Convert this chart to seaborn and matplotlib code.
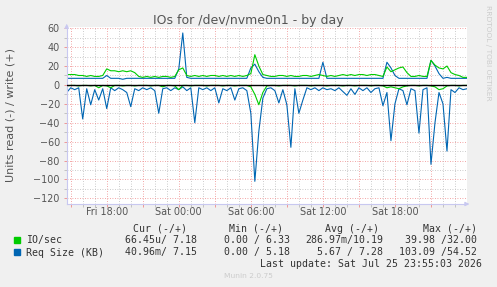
import pandas as pd
import numpy as np
import matplotlib
matplotlib.use("Agg")
import matplotlib.pyplot as plt
import matplotlib.dates as mdates
from matplotlib.ticker import MultipleLocator
from matplotlib.patches import Rectangle
import seaborn as sns

# 20 minute samples, Fri 14:40 -> Sat 24:00
times = pd.date_range("2026-07-24 14:40", periods=101, freq="20min")

# IO/sec write (+) and read (-)
io_write = [11, 11, 11, 10, 10, 9, 10, 9, 9, 10,
            17, 15, 15, 14, 15, 14, 15, 13, 9, 8,
            9, 8, 9, 8, 9, 9, 8, 9, 16, 18,
            10, 9, 10, 9, 10, 9, 10, 10, 9, 10,
            9, 10, 9, 10, 9, 10, 12, 32, 20, 11,
            10, 9, 9, 10, 10, 9, 10, 9, 9, 10,
            10, 9, 10, 11, 10, 9, 10, 9, 10, 11,
            10, 11, 10, 11, 11, 10, 11, 11, 10, 9,
            19, 14, 16, 18, 19, 13, 9, 9, 10, 9,
            9, 26, 21, 18, 17, 20, 13, 11, 10, 8,
            8]
io_read = [1, 0.5, 0.5, 1, 0.5, 0.5, 1, 0.5, 3, 0.5,
           1, 3, 0.5, 0.5, 1, 0.5, 0.5, 1, 0.5, 0.5,
           0.5, 1, 0.5, 0.5, 2, 0.5, 0.5, 1, 5, 0.5,
           0.5, 1, 0.5, 0.5, 0.5, 1, 0.5, 0.5, 0.5, 1,
           0.5, 0.5, 1, 0.5, 0.5, 0.5, 2, 10, 21, 8,
           1, 0.5, 0.5, 1, 0.5, 0.5, 0.5, 1, 0.5, 0.5,
           0.5, 1, 0.5, 0.5, 0.5, 1, 0.5, 0.5, 0.5, 1,
           0.5, 0.5, 1, 0.5, 0.5, 0.5, 1, 0.5, 0.5, 1,
           3, 2, 3, 4, 2, 1, 0.5, 0.5, 1, 0.5,
           0.5, 1, 2, 5, 4, 1, 0.5, 0.5, 1, 0.5,
           0.5]

# Req Size (KB) write (+) and read (-)
req_write = [7, 7, 7, 7, 7, 7, 7, 7, 7, 7,
             10, 7, 7, 7, 6, 7, 7, 7, 7, 7,
             7, 7, 7, 7, 7, 7, 7, 7, 17, 55,
             8, 7, 7, 7, 7, 7, 7, 7, 7, 7,
             7, 7, 7, 7, 7, 7, 18, 22, 14, 8,
             7, 7, 7, 7, 7, 7, 7, 7, 7, 7,
             7, 7, 7, 7, 24, 7, 7, 7, 7, 7,
             7, 7, 7, 7, 7, 7, 7, 7, 7, 7,
             24, 18, 10, 7, 7, 7, 7, 7, 7, 7,
             7, 26, 20, 12, 7, 8, 7, 7, 7, 7,
             7]
req_read = [8, 3, 5, 3, 36, 4, 21, 5, 16, 4,
            25, 3, 6, 3, 5, 8, 23, 4, 6, 3,
            5, 3, 6, 30, 4, 3, 6, 3, 5, 2,
            6, 3, 40, 3, 5, 3, 6, 3, 19, 4,
            6, 3, 16, 4, 3, 6, 30, 102, 49, 14,
            4, 3, 6, 19, 5, 21, 66, 4, 30, 16,
            3, 5, 3, 6, 3, 5, 4, 6, 3, 7,
            11, 4, 10, 3, 6, 3, 8, 4, 3, 22,
            8, 59, 20, 4, 6, 21, 4, 6, 51, 5,
            3, 84, 40, 8, 20, 70, 5, 8, 3, 5,
            4]

x_labels = {"2026-07-24 18:00": "Fri 18:00", "2026-07-25 00:00": "Sat 00:00",
            "2026-07-25 06:00": "Sat 06:00", "2026-07-25 12:00": "Sat 12:00",
            "2026-07-25 18:00": "Sat 18:00"}

legend_names = ["IO/sec", "Req Size (KB)"]
legend_cur = ["66.45u/ 7.18", "40.96m/ 7.15"]
legend_min = ["0.00 / 6.33", "0.00 / 5.18"]
legend_avg = ["286.97m/10.19", "5.67 / 7.28"]
legend_max = ["39.98 /32.00", "103.09 /54.52"]
colors = ["#00cc00", "#0066b3"]

df = pd.concat([
    pd.DataFrame({"time": times, "value": -np.array(req_read, float), "series": "req_down"}),
    pd.DataFrame({"time": times, "value": np.array(req_write, float), "series": "req_up"}),
    pd.DataFrame({"time": times, "value": -np.array(io_read, float), "series": "io_down"}),
    pd.DataFrame({"time": times, "value": np.array(io_write, float), "series": "io_up"}),
])
palette = {"req_down": colors[1], "req_up": colors[1], "io_down": colors[0], "io_up": colors[0]}

fig = plt.figure(figsize=(4.97, 2.87), dpi=100, facecolor="#f0f0f0")
ax = fig.add_axes([66.7 / 497, 1 - 204 / 287, 400.3 / 497, 176.7 / 287])
ax.set_facecolor("white")

sns.lineplot(data=df, x="time", y="value", hue="series", palette=palette,
             hue_order=["req_down", "req_up", "io_down", "io_up"],
             estimator=None, legend=False, linewidth=0.8, ax=ax)
ax.axhline(0, color="black", lw=1, zorder=5)

ax.set_xlim(times[0], times[-1])
ax.set_ylim(-126, 61)

grid_times = pd.date_range("2026-07-24 15:00", "2026-07-25 21:00", freq="3h")
hour_times = pd.date_range("2026-07-24 15:00", "2026-07-25 23:00", freq="1h")
ax.set_xticks(mdates.date2num(grid_times.to_pydatetime()))
ax.set_xticklabels([x_labels.get(t.strftime("%Y-%m-%d %H:%M"), "") for t in grid_times])
ax.set_xticks(mdates.date2num(hour_times.to_pydatetime()), minor=True)
ax.yaxis.set_major_locator(MultipleLocator(20))
ax.yaxis.set_minor_locator(MultipleLocator(10))

ax.grid(which="major", color="#ee8888", linestyle=(0, (1, 2)), lw=0.6)
ax.grid(which="minor", color="#bbbbbb", linestyle=(0, (1, 2)), lw=0.6)
ax.set_axisbelow(True)

ax.tick_params(which="both", length=2, width=0.6, labelsize=6.9, labelcolor="#555555")
ax.tick_params(which="major", color="#ee8888")
ax.tick_params(which="minor", color="#bbbbbb")
ax.tick_params(axis="x", pad=0.5)
ax.tick_params(axis="y", pad=3)
ax.set_xlabel("")
ax.set_ylabel("")

for s in ["top", "right"]:
    ax.spines[s].set_visible(False)
for s in ["left", "bottom"]:
    ax.spines[s].set_color("#c8c8f0")
    ax.spines[s].set_linewidth(0.8)
ax.annotate("", xy=(0, 1.036), xytext=(0, 0.99), xycoords="axes fraction",
            arrowprops=dict(arrowstyle="-|>", color="#c8c8f0", lw=0.8, mutation_scale=6),
            annotation_clip=False)
ax.annotate("", xy=(1.013, 0), xytext=(0.99, 0), xycoords="axes fraction",
            arrowprops=dict(arrowstyle="-|>", color="#c8c8f0", lw=0.8, mutation_scale=6),
            annotation_clip=False)

def fx(px):
    return px / 497

def fy(py):
    return 1 - py / 287

fig.text(0.5, fy(24), "IOs for /dev/nvme0n1 - by day", ha="center", va="baseline",
         fontsize=9, color="#555555")
fig.text(fx(11), fy(115), "Units read (-) / write (+)", rotation=90, ha="center",
         va="center", fontsize=8, color="#555555")
fig.text(fx(488), fy(5), "RRDTOOL / TOBI OETIKER", rotation=270, ha="center",
         va="top", fontsize=5.4, color="#cccccc")

mono = dict(family="DejaVu Sans Mono", fontsize=7.1, color="#333333", va="baseline")
headers = ["Cur (-/+)", "Min (-/+)", "Avg (-/+)", "Max (-/+)"]
header_right = [187.3, 283.3, 379.3, 476.7]
for h, r in zip(headers, header_right):
    fig.text(fx(r), fy(231.5), h, ha="right", **mono)

col_right = [196.7, 290, 383.3, 476.7]
row_base = [243, 255.5]
for i, name in enumerate(legend_names):
    y = row_base[i]
    fig.add_artist(Rectangle((fx(14), fy(y - 0.5)), 6 / 497, 6 / 287,
                             transform=fig.transFigure, color=colors[i]))
    fig.text(fx(26), fy(y), name, ha="left", **mono)
    for vals, r in zip([legend_cur, legend_min, legend_avg, legend_max], col_right):
        fig.text(fx(r), fy(y), vals[i], ha="right", **mono)

fig.text(fx(482.3), fy(267.3), "Last update: Sat Jul 25 23:55:03 2026", ha="right", **mono)
fig.text(0.5, fy(278), "Munin 2.0.75", ha="center", va="baseline", fontsize=5.4,
         color="#cccccc")

fig.savefig("out.png", dpi=100, facecolor=fig.get_facecolor())
